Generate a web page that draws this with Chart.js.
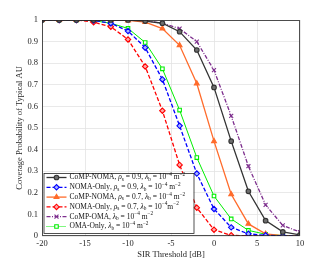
<!DOCTYPE html>
<html>
<head>
<meta charset="utf-8">
<script src="https://cdn.jsdelivr.net/npm/chart.js@4"></script>
<style>
  html, body { margin: 0; padding: 0; background: #fff; }
  #wrap { width: 331px; height: 265px; }
</style>
</head>
<body>
<div id="wrap"><canvas id="cov-chart" width="331" height="265"></canvas></div>
<script>
// SIR thresholds in dB
const sirThresholds = [-20, -18, -16, -14, -12, -10, -8, -6, -4, -2, 0, 2, 4, 6, 8, 10];

const compNoma09 = [1, 1, 1, 1, 1, 1, 0.995, 0.985, 0.946, 0.861, 0.688, 0.439, 0.207, 0.071, 0.019, 0.005];
const nomaOnly09 = [1, 1, 1, 0.998, 0.985, 0.949, 0.872, 0.725, 0.51, 0.289, 0.125, 0.04, 0.01, 0.003, 0.001, 0];
const compNoma07 = [1, 1, 1, 1, 1, 0.998, 0.99, 0.96, 0.883, 0.706, 0.439, 0.193, 0.056, 0.01, 0.002, 0];
const nomaOnly07 = [1, 1, 1, 0.99, 0.969, 0.91, 0.785, 0.58, 0.329, 0.131, 0.029, 0.003, 0, 0, 0, 0];
const compOma = [1, 1, 1, 1, 1, 1, 0.997, 0.985, 0.96, 0.9, 0.768, 0.556, 0.323, 0.144, 0.049, 0.018];
const omaOnly = [1, 1, 1, 0.997, 0.985, 0.961, 0.896, 0.774, 0.583, 0.363, 0.185, 0.079, 0.026, 0.008, 0.002, 0];

// legend text, _x = subscript, ^{..} = superscript
const seriesNames = [
    "CoMP-NOMA, ρ_s = 0.9, λ_b = 10^{−4} m^{−2}",
    "NOMA-Only, ρ_s = 0.9, λ_b = 10^{−4} m^{−2}",
    "CoMP-NOMA, ρ_s = 0.7, λ_b = 10^{−4} m^{−2}",
    "NOMA-Only, ρ_s = 0.7, λ_b = 10^{−4}m^{−2}",
    "CoMP-OMA, λ_b = 10^{−4} m^{−2}",
    "OMA-Only, λ_b = 10^{−4} m^{−2}"
];

const FONT = "'Liberation Serif', 'DejaVu Serif', serif";

function pts(arr){
    return arr.map((v, i) => ({x: sirThresholds[i], y: v}));
}

const styles = [
    {color: '#333333', fill: '#6e6e6e', marker: 'circle', dash: [], radius: 2.3},
    {color: '#0000ff', fill: '#aab4ff', marker: 'rectRot', dash: [4, 2], radius: 2.7},
    {color: '#ff6b2b', fill: '#ff6b2b', marker: 'triangle', dash: [], radius: 2.8},
    {color: '#ff0000', fill: '#ffaaaa', marker: 'rectRot', dash: [4, 2], radius: 2.7},
    {color: '#7e2f8e', fill: '#7e2f8e', marker: 'crossRot', dash: [4, 1.5, 1, 1.5], radius: 2.8},
    {color: '#00ee00', fill: '#ffffff', marker: 'rect', dash: [], radius: 2.5}
];
const seriesData = [compNoma09, nomaOnly09, compNoma07, nomaOnly07, compOma, omaOnly];

const datasets = seriesData.map((d, i) => ({
    label: seriesNames[i],
    data: pts(d),
    borderColor: styles[i].color,
    backgroundColor: styles[i].fill,
    borderWidth: i === 5 ? 1 : 1.3,
    borderDash: styles[i].dash,
    pointStyle: styles[i].marker,
    pointRadius: styles[i].radius,
    pointBorderWidth: 1.1,
    pointBorderColor: styles[i].color,
    pointBackgroundColor: styles[i].fill,
    tension: 0,
    fill: false
}));

// split "a_b^{c}" into pieces
function parseRich(str){
    const out = [];
    let i = 0, buf = '';
    while (i < str.length){
        const c = str[i];
        if (c === '_' || c === '^'){
            if (buf) { out.push({t: buf, k: 'n'}); buf = ''; }
            let txt;
            if (str[i + 1] === '{'){
                const end = str.indexOf('}', i);
                txt = str.slice(i + 2, end);
                i = end + 1;
            } else {
                txt = str[i + 1];
                i += 2;
            }
            out.push({t: txt, k: c === '_' ? 'sub' : 'sup'});
        } else {
            buf += c;
            i++;
        }
    }
    if (buf) out.push({t: buf, k: 'n'});
    return out;
}

function drawRich(ctx, str, x, y, size){
    const parts = parseRich(str);
    for (const p of parts){
        if (p.k === 'n'){
            // greek letters italic
            for (const ch of p.t){
                const greek = /[ρλ]/.test(ch);
                ctx.font = (greek ? 'italic ' : '') + size + 'px ' + FONT;
                ctx.fillText(ch, x, y);
                x += ctx.measureText(ch).width;
            }
        } else {
            const s = size * 0.7;
            ctx.font = s + 'px ' + FONT;
            const dy = p.k === 'sub' ? size * 0.25 : -size * 0.38;
            ctx.fillText(p.t, x, y + dy);
            x += ctx.measureText(p.t).width;
        }
    }
}

const boxAndLegend = {
    id: 'boxAndLegend',
    afterDatasetsDraw(chart){
        const ctx = chart.ctx;
        const a = chart.chartArea;
        ctx.save();
        // axes box
        ctx.strokeStyle = '#262626';
        ctx.lineWidth = 0.8;
        ctx.setLineDash([]);
        ctx.strokeRect(a.left + 0.5, a.top + 0.5, a.right - a.left - 1, a.bottom - a.top - 1);

        // legend in lower-left corner
        const bx = a.left + 1.5, by = a.top + 153, bw = 150, bh = 60;
        ctx.fillStyle = '#ffffff';
        ctx.fillRect(bx, by, bw, bh);
        ctx.strokeStyle = '#262626';
        ctx.lineWidth = 0.8;
        ctx.strokeRect(bx + 0.5, by + 0.5, bw, bh);
        const rowH = 9.8;
        chart.data.datasets.forEach((ds, i) => {
            const cy = by + 4.5 + i * rowH;
            ctx.strokeStyle = ds.borderColor;
            ctx.lineWidth = ds.borderWidth;
            ctx.setLineDash(i === 5 ? [1, 1] : ds.borderDash);
            ctx.beginPath();
            ctx.moveTo(bx + 3, cy);
            ctx.lineTo(bx + 23, cy);
            ctx.stroke();
            ctx.setLineDash([]);
            ctx.fillStyle = ds.pointBackgroundColor;
            ctx.strokeStyle = ds.pointBorderColor;
            ctx.lineWidth = 1.1;
            Chart.helpers.drawPoint(ctx, {pointStyle: ds.pointStyle, radius: ds.pointRadius, borderWidth: 1.1}, bx + 13, cy);
            ctx.fillStyle = '#111';
            ctx.textBaseline = 'middle';
            ctx.textAlign = 'left';
            drawRich(ctx, ds.label, bx + 26, cy, 7.5);
        });
        ctx.restore();
    }
};

const ctx = document.getElementById('cov-chart').getContext('2d');
const covChart = new Chart(ctx, {
    type: 'line',
    data: { datasets: datasets },
    options: {
        responsive: false,
        animation: false,
        devicePixelRatio: 1,
        layout: { padding: { top: 20, right: 31, left: 0, bottom: 0 } },
        plugins: {
            legend: { display: false },
            tooltip: { enabled: false }
        },
        scales: {
            x: {
                type: 'linear',
                min: -20,
                max: 10,
                afterFit(scale){ scale.height = 29; },
                ticks: {
                    stepSize: 5,
                    padding: 3,
                    color: '#262626',
                    font: { family: FONT, size: 8.5 },
                    callback: v => String(v)
                },
                grid: { color: '#e3e3e3', lineWidth: 0.8, drawTicks: false },
                border: { display: false },
                title: {
                    display: true,
                    text: 'SIR Threshold [dB]',
                    color: '#262626',
                    font: { family: FONT, size: 8.5 },
                    padding: { top: 0, bottom: 5 }
                }
            },
            y: {
                type: 'linear',
                min: 0,
                max: 1,
                afterFit(scale){ scale.width = 42; },
                ticks: {
                    stepSize: 0.1,
                    padding: 4,
                    color: '#262626',
                    font: { family: FONT, size: 8.5 },
                    callback: v => String(Math.round(v * 10) / 10)
                },
                grid: { color: '#e3e3e3', lineWidth: 0.8, drawTicks: false },
                border: { display: false },
                title: {
                    display: true,
                    text: 'Coverage Probability of Typical AU',
                    color: '#262626',
                    font: { family: FONT, size: 8.5 },
                    padding: { top: 15, bottom: 0 }
                }
            }
        }
    },
    plugins: [boxAndLegend]
});
</script>
</body>
</html>
